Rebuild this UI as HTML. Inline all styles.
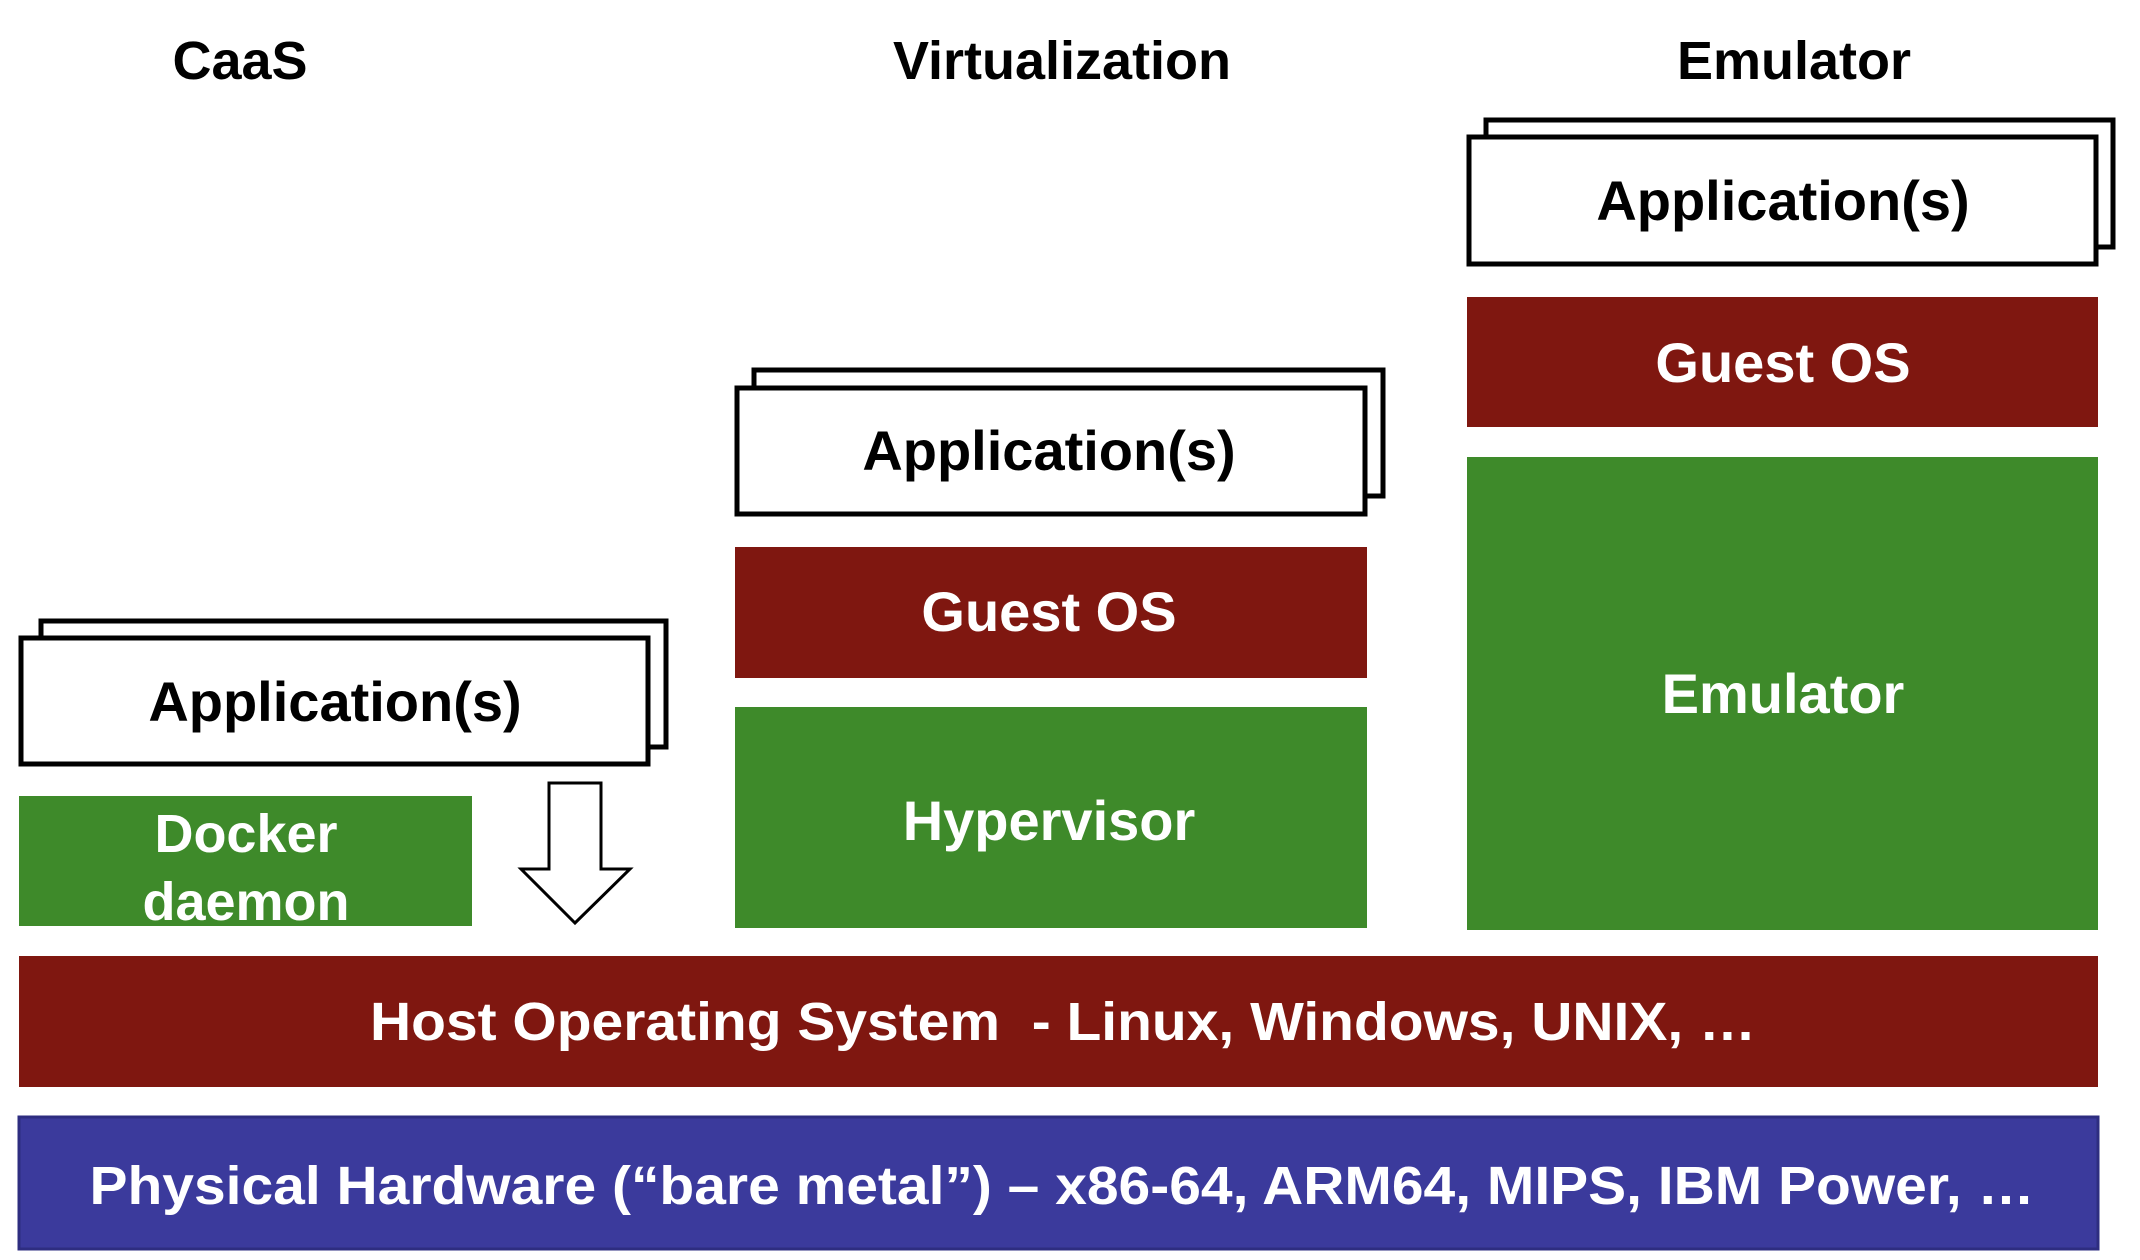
<!DOCTYPE html>
<html><head><meta charset="utf-8"><style>html,body{margin:0;padding:0;background:#fff}svg{display:block}</style></head>
<body>
<svg width="2140" height="1260" viewBox="0 0 2140 1260" xmlns="http://www.w3.org/2000/svg" font-family="Liberation Sans, Arial, sans-serif" font-weight="bold" text-anchor="middle">
<rect width="2140" height="1260" fill="#fff"/>
<!-- titles -->
<text x="240" y="79" font-size="54" fill="#000">CaaS</text>
<text x="1062" y="79" font-size="54" fill="#000">Virtualization</text>
<text x="1794" y="79" font-size="54" fill="#000">Emulator</text>

<!-- CaaS apps -->
<rect x="41" y="621" width="625" height="126" fill="#fff" stroke="#000" stroke-width="5"/>
<rect x="21" y="638" width="627" height="126" fill="#fff" stroke="#000" stroke-width="5"/>
<text x="335" y="721" font-size="56" fill="#000">Application(s)</text>
<rect x="19" y="796" width="453" height="130" fill="#3E8A2A"/>
<text x="246" y="852" font-size="54" fill="#fff">Docker</text>
<text x="246" y="920" font-size="54" fill="#fff">daemon</text>
<polygon points="549,783 601,783 601,869 630,869 575,923 521,869 549,869" fill="#fff" stroke="#000" stroke-width="3"/>

<!-- Virtualization -->
<rect x="754" y="370" width="629" height="126" fill="#fff" stroke="#000" stroke-width="5"/>
<rect x="737" y="388" width="628" height="126" fill="#fff" stroke="#000" stroke-width="5"/>
<text x="1049" y="470" font-size="56" fill="#000">Application(s)</text>
<rect x="735" y="547" width="632" height="131" fill="#7F1710"/>
<text x="1049" y="631" font-size="56" fill="#fff">Guest OS</text>
<rect x="735" y="707" width="632" height="221" fill="#3E8A2A"/>
<text x="1049" y="840" font-size="56" fill="#fff">Hypervisor</text>

<!-- Emulator -->
<rect x="1486" y="120" width="627" height="127" fill="#fff" stroke="#000" stroke-width="5"/>
<rect x="1469" y="137" width="627" height="127" fill="#fff" stroke="#000" stroke-width="5"/>
<text x="1783" y="220" font-size="56" fill="#000">Application(s)</text>
<rect x="1467" y="297" width="631" height="130" fill="#7F1710"/>
<text x="1783" y="382" font-size="56" fill="#fff">Guest OS</text>
<rect x="1467" y="457" width="631" height="473" fill="#3E8A2A"/>
<text x="1783" y="713" font-size="56" fill="#fff">Emulator</text>

<!-- Host OS -->
<rect x="19" y="956" width="2079" height="131" fill="#7F1710"/>
<text x="1063" y="1040" font-size="54" fill="#fff" textLength="1386" lengthAdjust="spacingAndGlyphs" xml:space="preserve">Host Operating System  - Linux, Windows, UNIX, …</text>

<!-- Hardware -->
<rect x="19" y="1117" width="2079" height="132" fill="#3B3A9C" stroke="#2E2D80" stroke-width="3"/>
<text x="1062" y="1204" font-size="54" fill="#fff" textLength="1945" lengthAdjust="spacingAndGlyphs">Physical Hardware (“bare metal”) – x86-64, ARM64, MIPS, IBM Power, …</text>
</svg>
</body></html>
